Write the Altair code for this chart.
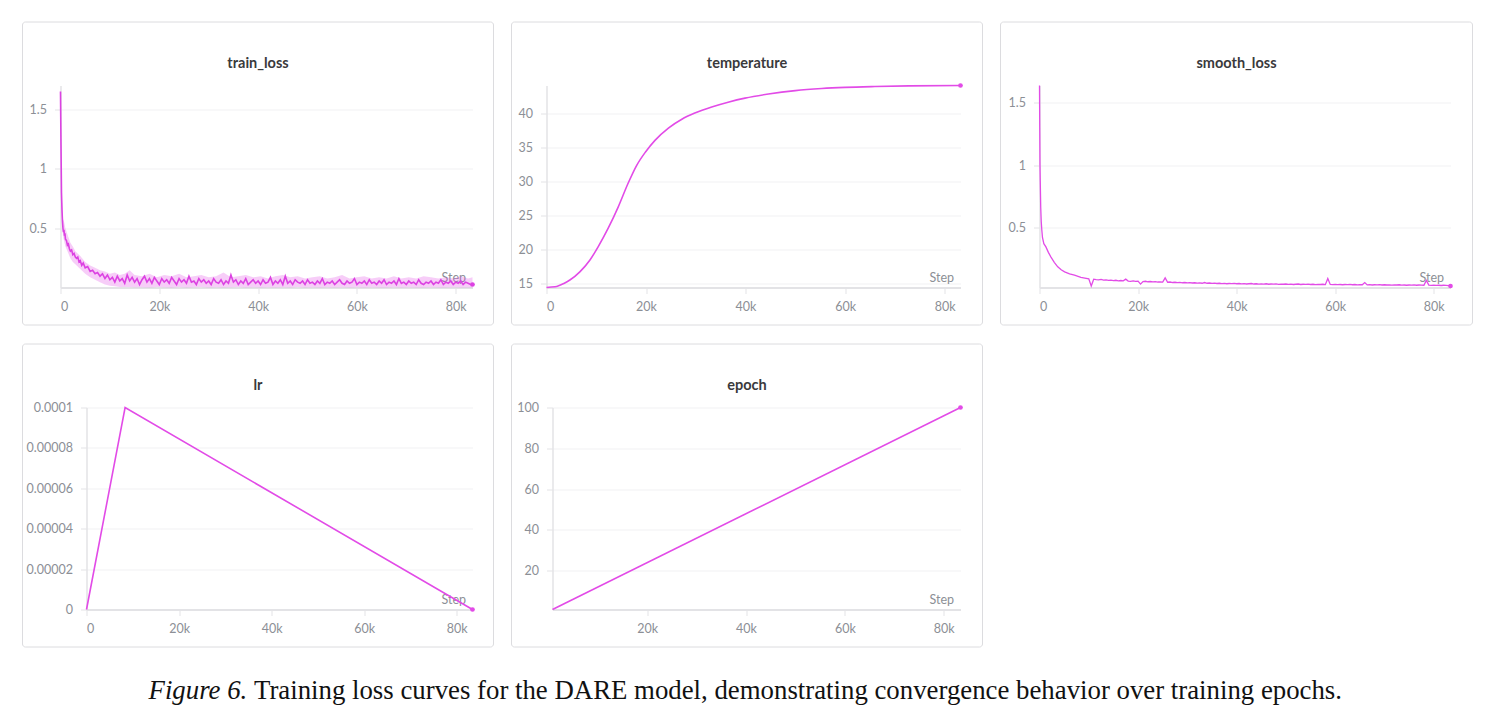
import altair as alt
import pandas as pd

PINK = "#e24be7"
FONT = "Lato"

# ---------------- data ----------------
train_steps = [0, 100, 200, 300, 400, 500, 600, 700, 800, 900, 1000, 1200, 1400, 1600, 1800,
               2000, 2250, 2500, 2750, 3000, 3250, 3500, 3750, 4000, 4300, 4600, 5000, 5500,
               6000, 6500, 7000, 7500, 8000, 8500, 9000, 9500] + list(range(10000, 83001, 500)) + [83400]
train_loss = [1.65, 1.20, 0.80, 0.66, 0.56, 0.50, 0.47, 0.49, 0.44, 0.46, 0.41, 0.40, 0.36, 0.37, 0.33,
              0.31, 0.32, 0.28, 0.29, 0.26, 0.25, 0.26, 0.22, 0.23, 0.19, 0.21, 0.17, 0.18,
              0.14, 0.15, 0.12, 0.13, 0.10, 0.12, 0.08, 0.11,
              0.07, 0.09, 0.05, 0.10, 0.06, 0.08, 0.04, 0.11, 0.06, 0.09,
              0.05, 0.08, 0.03, 0.07, 0.10, 0.05, 0.08, 0.04, 0.09, 0.06,
              0.03, 0.08, 0.05, 0.07, 0.04, 0.09, 0.06, 0.03, 0.08, 0.05,
              0.07, 0.04, 0.10, 0.05, 0.06, 0.03, 0.08, 0.05, 0.07, 0.04,
              0.06, 0.03, 0.08, 0.05, 0.04, 0.07, 0.03, 0.06, 0.04, 0.11,
              0.05, 0.07, 0.03, 0.06, 0.04, 0.08, 0.03, 0.05, 0.07, 0.04,
              0.06, 0.03, 0.07, 0.04, 0.05, 0.09, 0.03, 0.06, 0.04, 0.07,
              0.03, 0.10, 0.04, 0.06, 0.03, 0.07, 0.05, 0.04, 0.06, 0.03,
              0.07, 0.04, 0.05, 0.03, 0.06, 0.04, 0.08, 0.03, 0.05, 0.04,
              0.06, 0.03, 0.05, 0.07, 0.04, 0.03, 0.06, 0.04, 0.05, 0.08,
              0.03, 0.05, 0.04, 0.06, 0.03, 0.07, 0.04, 0.05, 0.03, 0.06,
              0.04, 0.07, 0.03, 0.05, 0.04, 0.06, 0.03, 0.08, 0.04, 0.05,
              0.03, 0.06, 0.04, 0.05, 0.03, 0.07, 0.04, 0.03, 0.05, 0.04,
              0.06, 0.03, 0.05, 0.04, 0.07, 0.03, 0.05, 0.04, 0.06, 0.03,
              0.05, 0.04, 0.06, 0.03, 0.05, 0.04, 0.03,
              0.03]

band_steps = [0, 100, 200, 300, 500, 700, 1000, 1500, 2000, 2500, 3000, 4000, 5000, 6000, 7000,
              8000, 9000, 10000, 11000, 12000, 13000, 14000, 15000] + list(range(16500, 82501, 1500)) + [83400]
band_hi = [1.70, 1.35, 0.95, 0.75, 0.58, 0.56, 0.50, 0.44, 0.38, 0.35, 0.31, 0.27, 0.22, 0.19, 0.17,
           0.15, 0.14, 0.12, 0.13, 0.11, 0.12, 0.15, 0.11,
           0.10, 0.12, 0.09, 0.11, 0.10,
           0.12, 0.09, 0.10, 0.11, 0.09,
           0.10, 0.13, 0.09, 0.10, 0.11,
           0.09, 0.10, 0.08, 0.10, 0.11,
           0.09, 0.10, 0.08, 0.09, 0.10,
           0.08, 0.09, 0.11, 0.08, 0.09,
           0.10, 0.08, 0.09, 0.08, 0.10,
           0.08, 0.09, 0.08, 0.10, 0.09,
           0.08, 0.09, 0.08, 0.10, 0.08,
           0.09]
band_lo = [1.60, 1.05, 0.70, 0.58, 0.44, 0.40, 0.35, 0.30, 0.25, 0.22, 0.20, 0.16, 0.12, 0.09, 0.07,
           0.05, 0.03, 0.02, 0.015, 0.01, 0.01, 0.01, 0.008,
           0.008, 0.006, 0.010, 0.007, 0.006,
           0.009, 0.006, 0.007, 0.010, 0.006,
           0.008, 0.006, 0.007, 0.009, 0.006,
           0.007, 0.006, 0.008, 0.006, 0.007,
           0.006, 0.009, 0.006, 0.007, 0.006,
           0.008, 0.006, 0.007, 0.006, 0.008,
           0.006, 0.007, 0.006, 0.006, 0.008,
           0.006, 0.007, 0.006, 0.006, 0.007,
           0.006, 0.006, 0.008, 0.006, 0.006,
           0.006]

temp_steps = [0, 1700, 3500, 4700, 6700, 8700, 10400, 12400, 14400, 16400, 18100, 19900, 21800,
              24500, 27200, 29800, 33200, 36500, 39900, 44600, 50000, 55300, 60000, 66000, 72800, 83200]
temperature = [14.41, 14.5, 15.0, 15.5, 16.7, 18.4, 20.4, 23.1, 26.2, 29.7, 32.3, 34.3, 36.0,
               37.8, 39.1, 40.0, 40.9, 41.6, 42.2, 42.8, 43.3, 43.6, 43.77, 43.9, 44.0, 44.05]

smooth_steps = [0, 50, 100, 150, 250, 350, 470, 600, 880, 1300, 1800, 2300, 3000, 3700, 4400,
                5100, 6100, 7100, 8400, 9200] + list(range(10000, 83001, 500)) + [83400]
smooth_loss = [1.64, 1.30, 1.00, 0.88, 0.66, 0.55, 0.48, 0.42, 0.37, 0.344, 0.30, 0.264, 0.22, 0.184, 0.16,
               0.144, 0.128, 0.117, 0.10, 0.094,
               0.088, 0.030, 0.085, 0.082, 0.080, 0.083, 0.078, 0.079, 0.076, 0.077,
               0.074, 0.076, 0.072, 0.074, 0.071, 0.085, 0.070, 0.068, 0.071, 0.067,
               0.069, 0.045, 0.066, 0.068, 0.064, 0.066, 0.063, 0.065, 0.062, 0.063,
               0.061, 0.095, 0.060, 0.062, 0.058, 0.060, 0.057, 0.059, 0.056, 0.058,
               0.055, 0.057, 0.054, 0.056, 0.053, 0.055, 0.052, 0.058, 0.052, 0.054,
               0.051, 0.053, 0.050, 0.052, 0.049, 0.051, 0.048, 0.050, 0.049, 0.051,
               0.048, 0.050, 0.047, 0.049, 0.046, 0.048, 0.050, 0.046, 0.048, 0.045,
               0.047, 0.045, 0.048, 0.044, 0.046, 0.045, 0.047, 0.043, 0.045, 0.044,
               0.046, 0.043, 0.045, 0.042, 0.044, 0.046, 0.042, 0.044, 0.043, 0.045,
               0.042, 0.044, 0.041, 0.043, 0.042, 0.044, 0.041, 0.090, 0.043, 0.041,
               0.043, 0.041, 0.042, 0.040, 0.042, 0.041, 0.043, 0.040, 0.042, 0.039,
               0.041, 0.040, 0.058, 0.039, 0.041, 0.038, 0.040, 0.039, 0.041, 0.038,
               0.040, 0.038, 0.039, 0.037, 0.039, 0.038, 0.040, 0.037, 0.038, 0.036,
               0.038, 0.037, 0.039, 0.036, 0.038, 0.037, 0.036, 0.075, 0.037, 0.035,
               0.037, 0.035, 0.036, 0.034, 0.036, 0.035, 0.033,
               0.030]

lr_steps = [0, 8340, 83400]
lr = [0.0, 0.0001, 0.0]

epoch_steps = [834, 83400]
epoch = [1, 100]

assert len(train_steps) == len(train_loss), (len(train_steps), len(train_loss))
assert len(band_steps) == len(band_hi) == len(band_lo), (len(band_steps), len(band_hi), len(band_lo))
assert len(smooth_steps) == len(smooth_loss), (len(smooth_steps), len(smooth_loss))
assert len(temp_steps) == len(temperature)

X_TICKS = [0, 20000, 40000, 60000, 80000]
TOP, BOT, H = 63.5, 37.5, 202
XLABEL = "datum.value == 0 ? '0' : format(datum.value / 1000, 'd') + 'k'"


def panel(title, w, L, R, xdom, ydom, yvals, yfmt, xvals, series, band=None, line_w=1.6,
          interp="linear", color=PINK):
    steps, vals = series
    df = pd.DataFrame({"step": steps, "v": vals})
    xax = alt.Axis(values=xvals, labelExpr=XLABEL, title="Step", titleAnchor="end", titleAlign="right",
                   titleX=w - 7, titleY=-6, titleBaseline="alphabetic", grid=False,
                   domainWidth=2, tickSize=6, labelPadding=7)
    yax = alt.Axis(values=yvals, format=yfmt, title=None, grid=True, domainWidth=1.5,
                   tickSize=6, labelPadding=8)
    xs = alt.Scale(domain=xdom, nice=False, zero=False)
    ys = alt.Scale(domain=ydom, nice=False, zero=False)

    frame = alt.Chart(alt.Data(values=[{"k": 1}])).mark_rect(
        fillOpacity=0, stroke="#dcdcdf", strokeWidth=1, cornerRadius=3
    ).encode(x=alt.value(-L), x2=alt.value(w + R), y=alt.value(-TOP), y2=alt.value(H + BOT))

    ttl = alt.Chart(alt.Data(values=[{"t": title}])).mark_text(
        font=FONT, fontSize=14.5, fontWeight="bold", color="#3a3a3c", baseline="middle", align="center"
    ).encode(x=alt.value((w + R - L) / 2), y=alt.value(-21.5), text="t:N")

    layers = [frame, ttl]
    if band is not None:
        bsteps, hi, lo = band
        bdf = pd.DataFrame({"step": bsteps, "hi": hi, "lo": lo})
        layers.append(alt.Chart(bdf).mark_area(color=PINK, opacity=0.28).encode(
            x=alt.X("step:Q", scale=xs, axis=xax),
            y=alt.Y("hi:Q", scale=ys, axis=yax),
            y2="lo:Q"))
    layers.append(alt.Chart(df).mark_line(color=color, strokeWidth=line_w, interpolate=interp).encode(
        x=alt.X("step:Q", scale=xs, axis=xax),
        y=alt.Y("v:Q", scale=ys, axis=yax)))
    layers.append(alt.Chart(df.tail(1)).mark_point(color=color, filled=True, size=22, opacity=1).encode(
        x=alt.X("step:Q", scale=xs, axis=xax),
        y=alt.Y("v:Q", scale=ys, axis=yax)))
    return alt.layer(*layers).properties(width=w, height=H)


p1 = panel("train_loss", 412, 38, 21, [0, 83400], [0.005, 1.70], [0.5, 1, 1.5], "~g", X_TICKS,
           (train_steps, train_loss), band=(band_steps, band_hi, band_lo), line_w=1.6, color="#dc42e2")
p2 = panel("temperature", 414, 35, 22, [0, 83200], [14.4, 44.05], [15, 20, 25, 30, 35, 40], "d", X_TICKS,
           (temp_steps, temperature), interp="monotone")
p3 = panel("smooth_loss", 411, 39, 22, [0, 83400], [0.018, 1.64], [0.5, 1, 1.5], "~g", X_TICKS,
           (smooth_steps, smooth_loss), line_w=1.3)
p4 = panel("lr", 386, 64, 21, [0, 83400], [0, 0.0001], [0, 0.00002, 0.00004, 0.00006, 0.00008, 0.0001],
           ".5~f", X_TICKS, (lr_steps, lr))
p5 = panel("epoch", 408, 41, 22, [834, 83400], [1, 100], [20, 40, 60, 80, 100], "d",
           [20000, 40000, 60000, 80000], (epoch_steps, epoch))


def spacer():
    # invisible 1px cell that anchors each row's left edge
    return alt.Chart(alt.Data(values=[{"k": 1}])).mark_rect(opacity=0).encode(
        x=alt.value(0), x2=alt.value(1), y=alt.value(0), y2=alt.value(1)).properties(width=1, height=1)


caption = alt.Chart(alt.Data(values=[{"a": "Figure 6.",
                                      "b": "Training loss curves for the DARE model, demonstrating convergence behavior over training epochs."}]))
cap_a = caption.mark_text(font="Liberation Serif", fontSize=26.8, fontStyle="italic", align="right",
                          baseline="alphabetic", color="#111111").encode(
    x=alt.value(242.8), y=alt.value(33.5), text="a:N")
cap_b = caption.mark_text(font="Liberation Serif", fontSize=26.8, align="left",
                          baseline="alphabetic", color="#111111").encode(
    x=alt.value(249.5), y=alt.value(33.5), text="b:N")
cap = alt.layer(cap_a, cap_b).properties(width=1460, height=45)

row1 = alt.hconcat(spacer(), p1, p2, p3, spacing=16)
row2 = alt.hconcat(spacer(), p4, p5, spacing=16)
chart = alt.concat(row1, row2, cap, columns=1, align="none", bounds="full", spacing=18).properties(
    padding={"left": 4.5, "top": 21.5, "right": 2, "bottom": 2}
).configure_view(strokeWidth=0).configure_axis(
    labelFont=FONT, labelFontSize=12.5, labelColor="#8c8f96",
    domainColor="#e3e3e6", tickColor="#e3e3e6", gridColor="#f1f1f3", gridWidth=1,
    titleFont=FONT, titleFontSize=12.5, titleFontWeight="normal", titleColor="#8c8f96"
)

chart.save("out.html", embed_options={"renderer": "svg", "actions": False})
